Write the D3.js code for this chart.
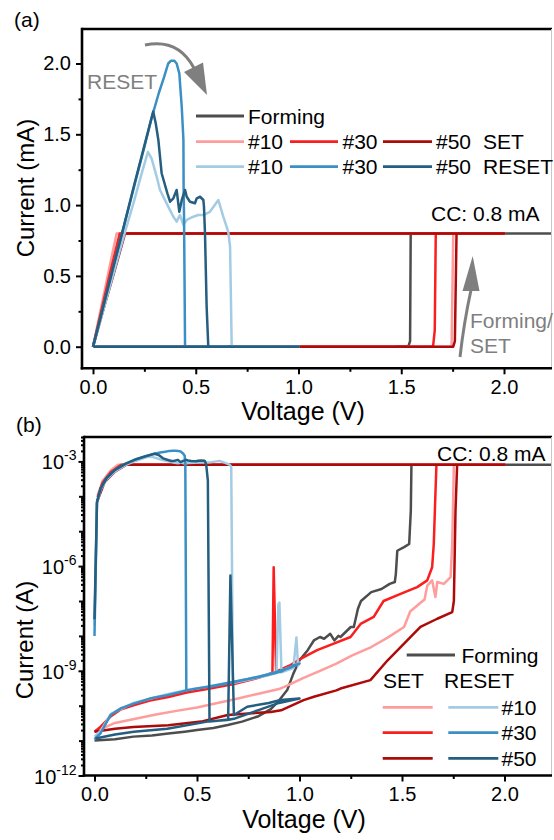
<!DOCTYPE html>
<html><head><meta charset="utf-8">
<script src="https://cdn.jsdelivr.net/npm/d3@7"></script>
<style>
html,body{margin:0;padding:0;background:#fff;}
svg{display:block;font-family:"Liberation Sans",Arial,sans-serif;}
</style></head><body>
<svg id="c" width="554" height="840"></svg>
<script>
// ---------------- DATA (Voltage V, Current A) ----------------
const forming = [[0,1.0e-11],[0.1,1.1e-11],[0.19,1.3e-11],[0.28,1.4e-11],[0.36,1.6e-11],[0.44,1.8e-11],[0.5,2.0e-11],[0.58,2.3e-11],[0.65,2.8e-11],[0.72,3.5e-11],[0.8,5.0e-11],[0.86,8e-11],[0.9,1.4e-10],[0.94,2.8e-10],[0.97,8.3e-10],[1.0,2.0e-9],[1.04,3.9e-9],[1.07,7.4e-9],[1.1,9.3e-9],[1.12,8.3e-9],[1.15,1.15e-8],[1.17,7.4e-9],[1.19,1.0e-8],[1.2,9.3e-9],[1.25,1.8e-8],[1.265,1.8e-8],[1.285,6e-8],[1.3,1.0e-7],[1.35,1.8e-7],[1.4,2.2e-7],[1.44,3.1e-7],[1.465,3.5e-7],[1.47,6.0e-7],[1.477,2.75e-6],[1.51,3.5e-6],[1.535,4.3e-6],[1.543,3.9e-5],[1.546,8e-4],[2.5,8e-4],[0.14,8e-4],[0.07,4e-4],[0.03,1.7e-4],[0,0]];
const set10 = [[0,1.8e-11],[0.05,2.4e-11],[0.1,3.2e-11],[0.2,4.2e-11],[0.3,5.6e-11],[0.4,7.1e-11],[0.5,8.9e-11],[0.6,1.2e-10],[0.7,1.6e-10],[0.8,2.2e-10],[0.9,3.0e-10],[0.95,4.0e-10],[1.02,6.3e-10],[1.1,1.0e-9],[1.18,1.6e-9],[1.26,2.8e-9],[1.35,4.8e-9],[1.43,8.9e-9],[1.51,1.8e-8],[1.54,5.0e-8],[1.58,7.9e-8],[1.61,1.1e-7],[1.623,2.75e-7],[1.647,3.9e-7],[1.663,1.3e-7],[1.672,3.5e-7],[1.704,3.1e-7],[1.737,4.8e-7],[1.745,4.3e-6],[1.753,8e-4],[2.0,8e-4],[0.115,8e-4],[0.08,5.6e-4],[0.04,2.8e-4],[0.015,1.05e-4],[0,0]];
const set30 = [[0,1.8e-11],[0.03,2.5e-11],[0.08,5e-11],[0.13,7.9e-11],[0.19,1.02e-10],[0.27,1.41e-10],[0.36,1.78e-10],[0.45,2.4e-10],[0.55,3.0e-10],[0.68,4.2e-10],[0.8,6.3e-10],[0.868,8.9e-10],[0.874,9.3e-7],[0.886,9.5e-10],[0.95,1.4e-9],[1.005,2.2e-9],[1.086,3.9e-9],[1.167,6.0e-9],[1.249,9.3e-9],[1.298,2.2e-8],[1.362,3.5e-8],[1.41,1.0e-7],[1.493,1.6e-7],[1.574,2.5e-7],[1.623,3.9e-7],[1.647,9.3e-7],[1.655,4.3e-6],[1.663,1.15e-4],[1.668,8e-4],[2.0,8e-4],[0.13,8e-4],[0.08,5e-4],[0.04,2.5e-4],[0.015,9.5e-5],[0,0]];
const set50 = [[0,1.8e-11],[0.1,2.2e-11],[0.19,2.45e-11],[0.36,2.75e-11],[0.52,3.5e-11],[0.65,5.4e-11],[0.75,6e-11],[0.86,6.6e-11],[0.91,7.4e-11],[1.02,1.45e-10],[1.07,1.8e-10],[1.18,2.75e-10],[1.2,3.1e-10],[1.346,5.4e-10],[1.43,2.0e-9],[1.51,6.0e-9],[1.59,1.8e-8],[1.672,3.1e-8],[1.745,4.8e-8],[1.753,1.0e-7],[1.761,3.9e-5],[1.769,8e-4],[2.0,8e-4],[0.156,8e-4],[0.1,5.1e-4],[0.05,2.6e-4],[0.015,7.7e-5],[0,0]];
const reset10 = [[0,2e-8],[0.012,6.2e-5],[0.03,1.55e-4],[0.06,3.1e-4],[0.1,5.2e-4],[0.15,7.8e-4],[0.2,1.03e-3],[0.24,1.24e-3],[0.267,1.375e-3],[0.285,1.33e-3],[0.31,1.20e-3],[0.326,1.107e-3],[0.366,0.989e-3],[0.391,0.918e-3],[0.407,0.883e-3],[0.423,0.93e-3],[0.44,0.86e-3],[0.456,0.895e-3],[0.488,0.918e-3],[0.512,0.93e-3],[0.537,0.93e-3],[0.569,0.953e-3],[0.61,1.036e-3],[0.634,0.918e-3],[0.658,0.812e-3],[0.667,0.706e-3],[0.675,4.5e-10],[0.75,5.5e-10],[0.85,7.5e-10],[0.888,8.6e-10],[0.897,8e-8],[0.902,9e-8],[0.912,9e-10],[0.97,1.2e-9],[0.985,9e-9],[0.993,1.4e-9],[1.0,1.7e-9],[0.97,1.4e-9],[0.9,9.5e-10],[0.8,6.8e-10],[0.68,4.9e-10],[0.55,3.5e-10],[0.45,2.8e-10],[0.35,2.1e-10],[0.19,1.2e-10],[0.08,5.8e-11],[0.03,1.9e-11],[0,1.3e-11]];
const reset30 = [[0,1e-8],[0.012,6.6e-5],[0.03,1.7e-4],[0.06,3.4e-4],[0.1,5.7e-4],[0.15,8.5e-4],[0.2,1.13e-3],[0.25,1.41e-3],[0.286,1.62e-3],[0.32,1.79e-3],[0.345,1.9e-3],[0.366,2.0e-3],[0.38,2.02e-3],[0.395,2.02e-3],[0.407,2.0e-3],[0.42,1.93e-3],[0.432,1.69e-3],[0.44,1.46e-3],[0.441,1.11e-3],[0.443,0.92e-3],[0.448,2.75e-10],[0.5,3.1e-10],[0.6,3.8e-10],[0.68,4.8e-10],[0.8,6.6e-10],[0.907,9.3e-10],[0.972,1.45e-9],[1.0,1.6e-9],[0.95,1.2e-9],[0.85,8e-10],[0.75,5.8e-10],[0.6,3.9e-10],[0.452,2.75e-10],[0.355,2.0e-10],[0.27,1.6e-10],[0.192,1.15e-10],[0.13,8.5e-11],[0.078,5.4e-11],[0.029,1.6e-11],[0,1.1e-11]];
const reset50 = [[0,3e-8],[0.012,6.8e-5],[0.03,1.7e-4],[0.06,3.4e-4],[0.1,5.7e-4],[0.15,8.5e-4],[0.2,1.14e-3],[0.25,1.42e-3],[0.293,1.66e-3],[0.305,1.58e-3],[0.318,1.46e-3],[0.334,1.225e-3],[0.362,1.083e-3],[0.375,1.024e-3],[0.391,1.048e-3],[0.407,1.107e-3],[0.42,0.953e-3],[0.432,1.036e-3],[0.448,1.107e-3],[0.456,1.059e-3],[0.472,1.024e-3],[0.496,1.013e-3],[0.505,1.048e-3],[0.521,1.059e-3],[0.537,1.036e-3],[0.54,0.989e-3],[0.545,0.80e-3],[0.553,0.282e-3],[0.561,3.5e-11],[0.6,3.7e-11],[0.652,4.0e-11],[0.663,5.4e-7],[0.68,5.4e-11],[0.745,9.3e-11],[0.85,1.2e-10],[0.907,1.45e-10],[1.0,1.6e-10],[0.9,1.2e-10],[0.8,7.5e-11],[0.68,4.2e-11],[0.647,3.9e-11],[0.55,3.5e-11],[0.355,2.2e-11],[0.192,1.8e-11],[0.1,1.5e-11],[0.005,1.15e-11]];

const voltageTicks = [0, 0.5, 1.0, 1.5, 2.0];
const voltageMinorTicks = [0.25, 0.75, 1.25, 1.75];
const currentTicksMA = [0, 0.5, 1.0, 1.5, 2.0];
const currentMinorTicksMA = [0.25, 0.75, 1.25, 1.75];
const logLabelTicks = [1e-12, 1e-9, 1e-6, 1e-3];
const logDecadeTicks = [1e-11, 1e-10, 1e-8, 1e-7, 1e-5, 1e-4];
const cycleLabels = ["#10", "#30", "#50"];

// ---------------- STYLE ----------------
const COL = {
  forming: "#4d4d4d",
  set: ["#ff9c9c", "#fa1e1e", "#ad0a0a"],
  reset: ["#a3cbe3", "#3b8fc4", "#245e80"],
  arrow: "#7f7f7f"
};
const FONT_TICK = 20, FONT_XTITLE = 25, FONT_YTITLE = 24, FONT_LEG = 21;

const series = [
  {data: forming, color: COL.forming},
  {data: set10, color: COL.set[0]},
  {data: set30, color: COL.set[1]},
  {data: set50, color: COL.set[2]},
  {data: reset10, color: COL.reset[0]},
  {data: reset30, color: COL.reset[1]},
  {data: reset50, color: COL.reset[2]}
];

const svg = d3.select("#c");

function frame(g, L, R, T, B) {
  g.append("line").attr("x1", L).attr("x2", R).attr("y1", T).attr("y2", T).attr("stroke", "#000").attr("stroke-width", 2.6);
  g.append("line").attr("x1", R - 0.5).attr("x2", R - 0.5).attr("y1", T).attr("y2", B).attr("stroke", "#c8c8c8").attr("stroke-width", 1);
  g.append("line").attr("x1", L).attr("x2", L).attr("y1", T - 1.3).attr("y2", B + 1.3).attr("stroke", "#000").attr("stroke-width", 2.6);
  g.append("line").attr("x1", L - 1.3).attr("x2", R).attr("y1", B).attr("y2", B).attr("stroke", "#000").attr("stroke-width", 2.6);
}
function styleAxis(sel) {
  sel.select(".domain").remove();
  sel.selectAll(".tick line").attr("stroke", "#000").attr("stroke-width", 2);
  sel.selectAll(".tick text").attr("fill", "#000").attr("font-size", FONT_TICK).attr("font-family", '"Liberation Sans",Arial,sans-serif');
}

// ================= PANEL (a) =================
const aL = 82, aR = 552, aT = 29, aB = 368.3;
const xA = d3.scaleLinear().domain([0, 2]).range([93, 504]);
const yA = d3.scaleLinear().domain([0, 2]).range([346.7, 63.5]);
const gA = svg.append("g");
gA.append("clipPath").attr("id", "clipA").append("rect").attr("x", aL).attr("y", aT).attr("width", aR - aL).attr("height", aB - aT);

const lineA = d3.line().x(d => xA(d[0])).y(d => yA(d[1] * 1000));
const plotA = gA.append("g").attr("clip-path", "url(#clipA)");
series.forEach(s => plotA.append("path").attr("d", lineA(s.data)).attr("fill", "none")
  .attr("stroke", s.color).attr("stroke-width", 2.5).attr("stroke-linejoin", "round"));

gA.append("g").attr("transform", `translate(0,${aB})`)
  .call(d3.axisBottom(xA).tickValues(voltageTicks).tickSize(6).tickPadding(6).tickFormat(d3.format(".1f"))).call(styleAxis);
gA.append("g").attr("transform", `translate(0,${aB})`)
  .call(d3.axisBottom(xA).tickValues(voltageMinorTicks).tickSize(3.5).tickFormat("")).call(styleAxis);
gA.append("g").attr("transform", `translate(${aL},0)`)
  .call(d3.axisLeft(yA).tickValues(currentTicksMA).tickSize(6).tickPadding(5).tickFormat(d3.format(".1f"))).call(styleAxis);
gA.append("g").attr("transform", `translate(${aL},0)`)
  .call(d3.axisLeft(yA).tickValues(currentMinorTicksMA).tickSize(3.5).tickFormat("")).call(styleAxis);
frame(gA, aL, aR, aT, aB);

gA.append("text").attr("x", 303).attr("y", 420).attr("text-anchor", "middle").attr("font-size", FONT_XTITLE).text("Voltage (V)");
gA.append("text").attr("transform", "translate(34,188) rotate(-90)").attr("text-anchor", "middle").attr("font-size", FONT_YTITLE).text("Current (mA)");
gA.append("text").attr("x", 14).attr("y", 27).attr("font-size", 21).text("(a)");
gA.append("text").attr("x", 431).attr("y", 220.5).attr("font-size", FONT_LEG).text("CC: 0.8 mA");
gA.append("text").attr("x", 87).attr("y", 89).attr("font-size", FONT_LEG).attr("fill", COL.arrow).text("RESET");
gA.append("text").attr("x", 470).attr("y", 327.5).attr("font-size", FONT_LEG).attr("fill", COL.arrow).text("Forming/");
gA.append("text").attr("x", 470).attr("y", 352.5).attr("font-size", FONT_LEG).attr("fill", COL.arrow).text("SET");

// arrows
gA.append("path").attr("d", "M145,45 Q178,38 194,68").attr("fill", "none").attr("stroke", COL.arrow).attr("stroke-width", 3);
gA.append("path").attr("d", "M184,72 L203,62.5 L207,95 Z").attr("fill", COL.arrow);
gA.append("path").attr("d", "M460,357 Q464,322 471,290").attr("fill", "none").attr("stroke", COL.arrow).attr("stroke-width", 3);
gA.append("path").attr("d", "M462.5,291 L479.5,291 L472.7,256 Z").attr("fill", COL.arrow);

// legend (a)
function legLine(g, x1, x2, y, c) {
  g.append("line").attr("x1", x1).attr("x2", x2).attr("y1", y).attr("y2", y).attr("stroke", c).attr("stroke-width", 2.8);
}
function legText(g, x, y, t, anchor) {
  g.append("text").attr("x", x).attr("y", y + 7.5).attr("font-size", FONT_LEG).attr("text-anchor", anchor || "start").text(t);
}
legLine(gA, 196, 244, 116, COL.forming); legText(gA, 248, 116, "Forming");
const aCols = [[196, 244, 248], [290, 338, 342.5], [383, 432, 436]];
[[141.7, COL.set, "SET"], [166.7, COL.reset, "RESET"]].forEach(([y, cols, lab]) => {
  aCols.forEach((c, i) => { legLine(gA, c[0], c[1], y, cols[i]); legText(gA, c[2], y, cycleLabels[i]); });
  legText(gA, 483, y, lab);
});

// ================= PANEL (b) =================
const bL = 84, bR = 552, bT = 437, bB = 775.5;
const xB = d3.scaleLinear().domain([0, 2]).range([94.5, 504.5]);
const yB = d3.scaleLog().domain([1e-12, 1e-3]).range([775.5, 461.4]);
const gB = svg.append("g");
gB.append("clipPath").attr("id", "clipB").append("rect").attr("x", bL).attr("y", bT).attr("width", bR - bL).attr("height", bB - bT);
const lineB = d3.line().defined(d => d[1] > 0).x(d => xB(d[0])).y(d => yB(d[1]));
const plotB = gB.append("g").attr("clip-path", "url(#clipB)");
series.forEach(s => plotB.append("path").attr("d", lineB(s.data)).attr("fill", "none")
  .attr("stroke", s.color).attr("stroke-width", 2.5).attr("stroke-linejoin", "round"));

gB.append("g").attr("transform", `translate(0,${bB})`)
  .call(d3.axisBottom(xB).tickValues(voltageTicks).tickSize(6).tickPadding(5).tickFormat(d3.format(".1f"))).call(styleAxis);
gB.append("g").attr("transform", `translate(0,${bB})`)
  .call(d3.axisBottom(xB).tickValues(voltageMinorTicks).tickSize(3.5).tickFormat("")).call(styleAxis);
const minorLog = [];
for (let e = -12; e <= -3; e++) for (let k = 2; k <= 9; k++) { const v = k * Math.pow(10, e); if (v <= yB.invert(bT)) minorLog.push(v); }
gB.append("g").attr("transform", `translate(${bL},0)`)
  .call(d3.axisLeft(yB).tickValues(minorLog).tickSize(3).tickFormat("")).call(styleAxis);
gB.append("g").attr("transform", `translate(${bL},0)`)
  .call(d3.axisLeft(yB).tickValues(logDecadeTicks).tickSize(5).tickFormat("")).call(styleAxis);
const yAx = gB.append("g").attr("transform", `translate(${bL},0)`)
  .call(d3.axisLeft(yB).tickValues(logLabelTicks).tickSize(5.5).tickPadding(2).tickFormat(""));
styleAxis(yAx);
yAx.selectAll(".tick text").each(function(d) {
  const t = d3.select(this);
  t.attr("dy", null).attr("y", 7.5);
  t.append("tspan").text("10");
  t.append("tspan").attr("dy", -9).attr("font-size", 14).text(String(Math.round(Math.log10(d))));
});
frame(gB, bL, bR, bT, bB);

gB.append("text").attr("x", 304).attr("y", 828).attr("text-anchor", "middle").attr("font-size", FONT_XTITLE).text("Voltage (V)");
gB.append("text").attr("transform", "translate(33,640) rotate(-90)").attr("text-anchor", "middle").attr("font-size", FONT_YTITLE).text("Current (A)");
gB.append("text").attr("x", 16).attr("y", 432).attr("font-size", 21).text("(b)");
gB.append("text").attr("x", 437).attr("y", 460.5).attr("font-size", FONT_LEG).text("CC: 0.8 mA");

// legend (b)
legLine(gB, 406.7, 455, 655, COL.forming); legText(gB, 461.5, 655, "Forming");
gB.append("text").attr("x", 383).attr("y", 688).attr("font-size", FONT_LEG).text("SET");
gB.append("text").attr("x", 444).attr("y", 688).attr("font-size", FONT_LEG).text("RESET");
[707.3, 732.7, 758.3].forEach((y, i) => {
  legLine(gB, 382.7, 432.7, y, COL.set[i]);
  legLine(gB, 448.3, 498.3, y, COL.reset[i]);
  legText(gB, 501.5, y, cycleLabels[i]);
});
</script>
</body></html>
